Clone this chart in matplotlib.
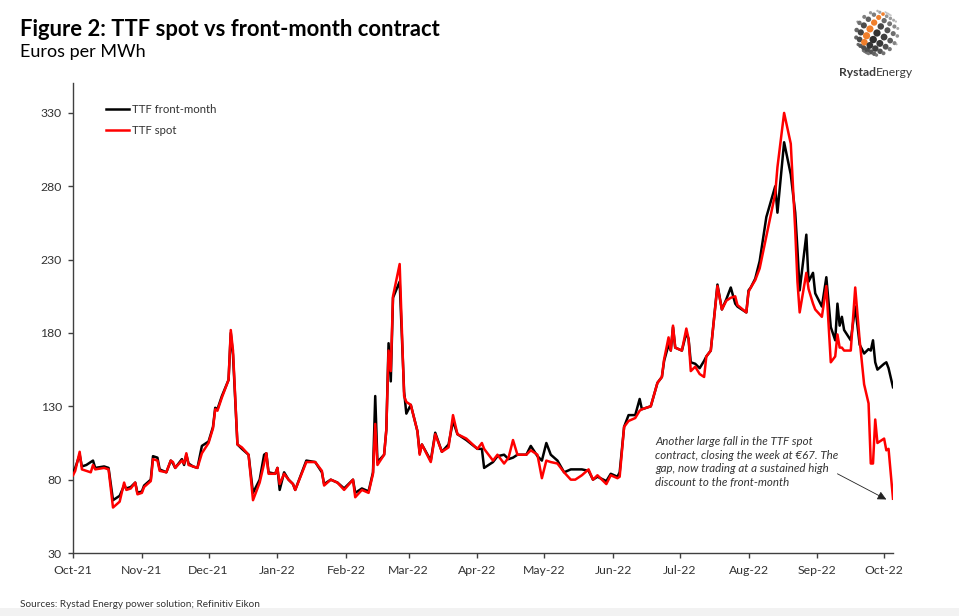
import numpy as np
import pandas as pd
import matplotlib
matplotlib.use("Agg")
import matplotlib.pyplot as plt
import matplotlib.dates as mdates

plt.rcParams['font.family'] = ['Lato', 'DejaVu Sans']

# daily closes (EUR/MWh)
dates = [
    "2021-10-01", "2021-10-02", "2021-10-04", "2021-10-05", "2021-10-07", "2021-10-09",
    "2021-10-10", "2021-10-11", "2021-10-15", "2021-10-17", "2021-10-19", "2021-10-22",
    "2021-10-24", "2021-10-25", "2021-10-27", "2021-10-29", "2021-10-30", "2021-11-01",
    "2021-11-02", "2021-11-05", "2021-11-06", "2021-11-08", "2021-11-09", "2021-11-12",
    "2021-11-14", "2021-11-15", "2021-11-16", "2021-11-19", "2021-11-20", "2021-11-21",
    "2021-11-22", "2021-11-24", "2021-11-26", "2021-11-28", "2021-12-01", "2021-12-03",
    "2021-12-04", "2021-12-05", "2021-12-07", "2021-12-10", "2021-12-11", "2021-12-12",
    "2021-12-14", "2021-12-16", "2021-12-19", "2021-12-21", "2021-12-24", "2021-12-26",
    "2021-12-27", "2021-12-28", "2021-12-31", "2022-01-01", "2022-01-02", "2022-01-04",
    "2022-01-06", "2022-01-08", "2022-01-09", "2022-01-14", "2022-01-18", "2022-01-21",
    "2022-01-22", "2022-01-25", "2022-01-28", "2022-01-31", "2022-02-04", "2022-02-05",
    "2022-02-08", "2022-02-11", "2022-02-13", "2022-02-14", "2022-02-15", "2022-02-18",
    "2022-02-19", "2022-02-20", "2022-02-21", "2022-02-22", "2022-02-25", "2022-02-27",
    "2022-02-28", "2022-03-02", "2022-03-05", "2022-03-06", "2022-03-07", "2022-03-11",
    "2022-03-13", "2022-03-16", "2022-03-19", "2022-03-21", "2022-03-23", "2022-03-27",
    "2022-04-01", "2022-04-03", "2022-04-04", "2022-04-08", "2022-04-10", "2022-04-13",
    "2022-04-15", "2022-04-17", "2022-04-19", "2022-04-23", "2022-04-25", "2022-04-28",
    "2022-04-30", "2022-05-02", "2022-05-04", "2022-05-07", "2022-05-10", "2022-05-13",
    "2022-05-15", "2022-05-18", "2022-05-21", "2022-05-23", "2022-05-25", "2022-05-29",
    "2022-05-31", "2022-06-03", "2022-06-04", "2022-06-06", "2022-06-08", "2022-06-11",
    "2022-06-13", "2022-06-14", "2022-06-18", "2022-06-21", "2022-06-23", "2022-06-24",
    "2022-06-26", "2022-06-27", "2022-06-28", "2022-06-29", "2022-07-02", "2022-07-04",
    "2022-07-05", "2022-07-06", "2022-07-08", "2022-07-10", "2022-07-12", "2022-07-13",
    "2022-07-15", "2022-07-18", "2022-07-20", "2022-07-22", "2022-07-24", "2022-07-26",
    "2022-07-27", "2022-07-31", "2022-08-01", "2022-08-02", "2022-08-04", "2022-08-06",
    "2022-08-09", "2022-08-13", "2022-08-14", "2022-08-17", "2022-08-20", "2022-08-22",
    "2022-08-23", "2022-08-24", "2022-08-27", "2022-08-28", "2022-08-30", "2022-08-31",
    "2022-09-03", "2022-09-05", "2022-09-07", "2022-09-09", "2022-09-10", "2022-09-11",
    "2022-09-12", "2022-09-13", "2022-09-16", "2022-09-18", "2022-09-20", "2022-09-22",
    "2022-09-24", "2022-09-25", "2022-09-26", "2022-09-27", "2022-09-28", "2022-10-01",
    "2022-10-02", "2022-10-03", "2022-10-05",
]

front_month = [
    85, 88, 97, 89, 90, 92,
    93, 88, 89, 88, 66, 69,
    76, 74, 75, 78, 71, 72,
    76, 80, 96, 95, 87, 85,
    93, 91, 88, 94, 90, 97,
    91, 89, 88, 103, 106, 116,
    129, 128, 137, 148, 180, 165,
    104, 101, 97, 71, 80, 97,
    98, 85, 84, 88, 73, 85,
    80, 77, 73, 93, 92, 85,
    77, 80, 78, 74, 80, 71,
    74, 72, 85, 137, 92, 97,
    114, 173, 147, 204, 215, 140,
    125, 131, 113, 98, 104, 93,
    112, 99, 104, 120, 111, 107,
    101, 101, 88, 92, 96, 97,
    94, 95, 97, 97, 103, 96,
    93, 105, 97, 93, 85, 87,
    87, 87, 86, 80, 82, 79,
    84, 82, 85, 116, 124, 124,
    135, 128, 130, 146, 150, 161,
    172, 168, 184, 170, 168, 180,
    176, 160, 159, 156, 161, 164,
    168, 213, 196, 203, 211, 200,
    198, 194, 209, 211, 217, 229,
    259, 280, 262, 310, 288, 262,
    237, 209, 247, 215, 221, 207,
    198, 218, 184, 175, 200, 185,
    191, 182, 175, 198, 172, 166,
    169, 168, 175, 160, 155, 159,
    160, 156, 143,
]

spot = [
    83, 86, 99, 87, 86, 85,
    90, 87, 88, 87, 61, 65,
    78, 73, 74, 78, 70, 71,
    75, 79, 94, 93, 86, 85,
    93, 92, 88, 93, 91, 98,
    90, 89, 88, 98, 105, 115,
    128, 127, 136, 148, 182, 168,
    104, 102, 97, 66, 78, 91,
    98, 84, 84, 88, 77, 84,
    80, 77, 73, 92, 92, 86,
    76, 80, 78, 73, 80, 68,
    73, 71, 84, 118, 90, 97,
    114, 168, 154, 205, 227, 137,
    133, 131, 113, 97, 104, 92,
    111, 99, 102, 124, 111, 108,
    101, 105, 101, 93, 97, 91,
    95, 107, 97, 97, 100, 97,
    81, 93, 92, 91, 85, 80,
    80, 83, 87, 80, 83, 77,
    83, 81, 82, 116, 120, 122,
    127, 128, 130, 146, 150, 162,
    177, 168, 185, 170, 168, 183,
    176, 154, 157, 152, 150, 164,
    168, 212, 196, 202, 204, 205,
    199, 194, 208, 211, 216, 224,
    246, 275, 293, 330, 309, 250,
    215, 194, 221, 210, 200, 196,
    191, 212, 160, 164, 179, 170,
    170, 168, 168, 211, 175, 145,
    132, 91, 91, 121, 105, 108,
    100, 101, 67,
]

x = pd.to_datetime(dates)
txt = '#333333'

fig = plt.figure(figsize=(9.59, 6.16), dpi=100)
ax = fig.add_axes([73 / 959, 63 / 616, 820 / 959, 470 / 616])

ax.plot(x, front_month, color='black', lw=1.8, label='TTF front-month', zorder=3)
ax.plot(x, spot, color='#ff0000', lw=1.8, label='TTF spot', zorder=4)

ax.set_ylim(30, 350.4)
ax.set_yticks(range(30, 331, 50))
ax.set_xlim(pd.Timestamp('2021-10-01'), pd.Timestamp('2022-10-05'))
ax.xaxis.set_major_locator(mdates.MonthLocator())
ax.xaxis.set_major_formatter(mdates.DateFormatter('%b-%y'))

for s in ['top', 'right']:
    ax.spines[s].set_visible(False)
for s in ['left', 'bottom']:
    ax.spines[s].set_color('#404040')
    ax.spines[s].set_linewidth(1.0)
ax.tick_params(axis='both', colors='#404040', labelcolor=txt, labelsize=8.8,
               length=3.5, width=1.0, direction='out')
ax.tick_params(axis='x', pad=5)
ax.tick_params(axis='y', pad=4.5)

leg = ax.legend(loc='upper left', bbox_to_anchor=(106 / 959, 1 - 104 / 616),
                bbox_transform=fig.transFigure, frameon=False, fontsize=8.2,
                handlelength=2.0, handletextpad=0.3, labelspacing=0.85,
                borderpad=0, borderaxespad=0)
for t in leg.get_texts():
    t.set_color(txt)

# annotation for the latest fall
note = ("Another large fall in the TTF spot\n"
        "contract, closing the week at \u20ac67. The\n"
        "gap, now trading at a sustained high\n"
        "discount to the front-month")
fig.text(655 / 959, 1 - 436 / 616, note, fontsize=8.3, style='italic', color=txt,
         ha='left', va='top', linespacing=1.3)
ax.annotate('', xy=(pd.Timestamp('2022-10-02'), 66.5),
            xytext=(pd.Timestamp('2022-09-10'), 84.0),
            arrowprops=dict(arrowstyle='-|>', color='#222222', lw=0.6,
                            mutation_scale=13, shrinkA=0, shrinkB=0))

# title block
fig.text(20 / 959, 1 - 36 / 616, "Figure 2: TTF spot vs front-month contract",
         fontsize=15.8, fontweight='bold', color='black', ha='left', va='baseline')
fig.text(20 / 959, 1 - 57 / 616, "Euros per MWh", fontsize=13, color='black',
         ha='left', va='baseline')
fig.text(20 / 959, 1 - 607 / 616, "Sources: Rystad Energy power solution; Refinitiv Eikon",
         fontsize=7.2, color=txt, ha='left', va='baseline')

# light grey strip at the very bottom of the page
fig.patches.append(plt.Rectangle((0, 0), 1, 8 / 616, transform=fig.transFigure,
                                 facecolor='#f2f2f2', edgecolor='none'))

# logo: dotted globe, tilted sphere grid
lax = fig.add_axes([852 / 959, 1 - 58 / 616, 50 / 959, 50 / 616])
lax.set_xlim(-1.1, 1.1)
lax.set_ylim(-1.1, 1.1)
lax.axis('off')
lat = np.radians(np.arange(-78, 79, 19.5))
lon = np.radians(np.arange(-84, 85, 21))
LA, LO = np.meshgrid(lat, lon)
X = np.cos(LA) * np.sin(LO)
Y = np.sin(LA)
Z = np.cos(LA) * np.cos(LO)
th = np.radians(-30)
gx = (X * np.cos(th) - Y * np.sin(th)).ravel()
gy = (X * np.sin(th) + Y * np.cos(th)).ravel()
depth = Z.ravel()
keep = depth > 0.1
light = np.clip(1.0 - 0.3 * (gx + gy), 0.35, 1.3)
sizes = (1.5 + 26 * depth ** 1.5) * light
shade = np.clip(0.2 + 0.5 * (1 - depth) + 0.12 * (gx + gy), 0.18, 0.8)
cols = [(s, s, s) for s in shade]
orange = (np.isclose(LO, np.radians(-21)).ravel()
          & (LA.ravel() > np.radians(-45)) & (LA.ravel() < np.radians(60)))
cols = [('#f07f2c' if o else c) for o, c in zip(orange, cols)]
lax.scatter(gx[keep], gy[keep], s=sizes[keep], c=[c for c, k in zip(cols, keep) if k],
            linewidths=0)
fig.text(876 / 959, 1 - 76 / 616, "Rystad", fontsize=8.7, fontweight='bold',
         color='#3a3a3a', ha='right', va='baseline')
fig.text(876 / 959, 1 - 76 / 616, "Energy", fontsize=8.7, color='#3a3a3a',
         ha='left', va='baseline')

fig.savefig('out.png', dpi=100)
